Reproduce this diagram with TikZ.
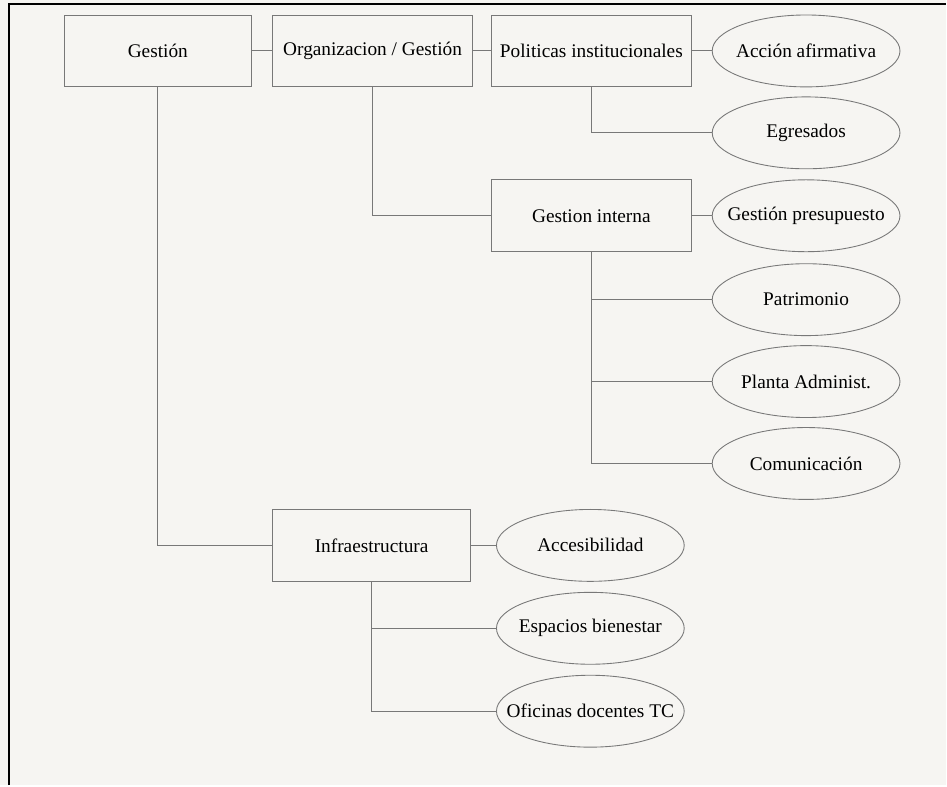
\documentclass[tikz,border=0pt]{standalone}
\usepackage{fontspec}
\setmainfont{Liberation Serif}
\usetikzlibrary{shapes.geometric}
\definecolor{papel}{RGB}{246,245,242}
\definecolor{trazo}{RGB}{120,120,120}

\begin{document}
\begin{tikzpicture}[x=0.02cm,y=-0.02cm,
	caja/.style={draw=trazo, line width=0.5pt, minimum width=4cm, minimum height=1.44cm, inner sep=0pt, font=\fontsize{11}{13}\selectfont},
	elipse/.style={ellipse, draw=trazo, line width=0.5pt, minimum width=3.76cm, minimum height=1.44cm, inner ysep=0pt, inner xsep=-0.7cm, font=\fontsize{11}{13}\selectfont},
	rama/.style={draw=trazo, line width=0.5pt}]
	%% page
	\fill[papel] (0,0) rectangle (947,786);
	\draw[line width=1.2pt] (9,786) -- (9,4) -- (947,4);
	%% boxes
	\node[caja, minimum width=3.76cm] (gestion) at (158,51) {Gestión};
	\node[caja] (org) at (373,51) {Organizacion / Gestión};
	\node[caja] (pol) at (592,51) {Politicas institucionales};
	\node[caja] (gint) at (592,216) {Gestion interna};
	\node[caja, minimum width=3.96cm] (infra) at (372,546) {Infraestructura};
	%% ellipses
	\node[elipse] (accion) at (807,51) {Acción afirmativa};
	\node[elipse] (egresados) at (807,133) {Egresados};
	\node[elipse] (presupuesto) at (807,216) {Gestión presupuesto};
	\node[elipse] (patrimonio) at (807,300) {Patrimonio};
	\node[elipse] (planta) at (807,382) {Planta Administ.};
	\node[elipse] (comunicacion) at (807,464) {Comunicación};
	\node[elipse] (accesibilidad) at (591,546) {Accesibilidad};
	\node[elipse] (espacios) at (591,629) {Espacios bienestar};
	\node[elipse] (oficinas) at (591,712) {Oficinas docentes TC};
	%% connectors
	\draw[rama] (gestion) -- (org);
	\draw[rama] (org) -- (pol);
	\draw[rama] (pol) -- (accion);
	\draw[rama] (pol.south) |- (egresados.west);
	\draw[rama] (org.south) |- (gint.west);
	\draw[rama] (gint) -- (presupuesto);
	\draw[rama] (gint.south) |- (patrimonio.west);
	\draw[rama] (gint.south) |- (planta.west);
	\draw[rama] (gint.south) |- (comunicacion.west);
	\draw[rama] (gestion.south) |- (infra.west);
	\draw[rama] (infra) -- (accesibilidad);
	\draw[rama] (infra.south) |- (espacios.west);
	\draw[rama] (infra.south) |- (oficinas.west);
\end{tikzpicture}
\end{document}
